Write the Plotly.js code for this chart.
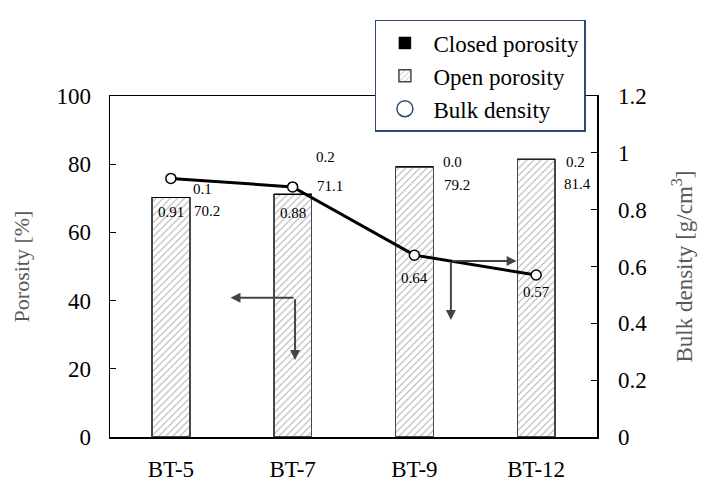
<!DOCTYPE html>
<html>
<head>
<meta charset="utf-8">
<script src="https://cdn.plot.ly/plotly-3.0.1.min.js"></script>
<style>html,body{margin:0;padding:0;background:#fff;}#chart{width:717px;height:491px;}#err{position:absolute;left:0;top:0;font:11px monospace;color:red;white-space:pre-wrap;}</style>
</head>
<body>
<div id="chart"></div>
<div id="err"></div>
<script>
// ---- data ----
var samples = ["BT-5", "BT-7", "BT-9", "BT-12"];
var openPorosity = [70.2, 71.1, 79.2, 81.4];
var closedPorosity = [0.1, 0.2, 0.0, 0.2];
var bulkDensity = [0.91, 0.88, 0.64, 0.57];
var openLabels = ["70.2", "71.1", "79.2", "81.4"];
var closedLabels = ["0.1", "0.2", "0.0", "0.2"];
var densityLabels = ["0.91", "0.88", "0.64", "0.57"];

// ---- label offsets (pixels) ----
var openOff = [[36, -14], [37, 8], [43, -18], [41, -25]];
var closedOff = [[32, 8], [33, 37], [38, 5], [39, -3]];
var densOff = [[0, -34], [0, -26], [0, -23], [0, -17]];

var serif = "Liberation Serif";

var traces = [
  {
    type: "bar", name: "Open porosity", x: samples, y: openPorosity,
    width: 0.31, legendrank: 2,
    marker: {color: "white", line: {color: "#474747", width: 1.5},
      pattern: {shape: "/", fgcolor: "#a8a8a8", bgcolor: "white", size: 5, solidity: 0.18}},
    hoverinfo: "skip"
  },
  {
    type: "bar", name: "Closed porosity", x: samples, y: closedPorosity,
    width: 0.31, legendrank: 1,
    marker: {color: "black", line: {color: "black", width: 0.5}},
    hoverinfo: "skip"
  },
  {
    type: "scatter", mode: "lines+markers", x: samples, y: bulkDensity, yaxis: "y2",
    showlegend: false,
    line: {color: "black", width: 3},
    marker: {color: "white", size: 10, line: {color: "black", width: 1.5}},
    hoverinfo: "skip"
  },
  {
    type: "scatter", mode: "markers", name: "Bulk density", x: [samples[0]], y: [-1], yaxis: "y2",
    legendrank: 3, hoverinfo: "skip",
    marker: {color: "white", size: 16, line: {color: "#2f4b7c", width: 1.5}}
  }
];

var annotations = [];
for (var i = 0; i < samples.length; i++) {
  var barTop = openPorosity[i] + closedPorosity[i];
  annotations.push({x: samples[i], y: barTop, xref: "x", yref: "y", text: openLabels[i], showarrow: false,
    xshift: openOff[i][0], yshift: openOff[i][1], font: {family: serif, size: 15, color: "black"}});
  annotations.push({x: samples[i], y: barTop, xref: "x", yref: "y", text: closedLabels[i], showarrow: false,
    xshift: closedOff[i][0], yshift: closedOff[i][1], font: {family: serif, size: 15, color: "black"}});
  annotations.push({x: samples[i], y: bulkDensity[i], xref: "x", yref: "y2", text: densityLabels[i], showarrow: false,
    xshift: densOff[i][0], yshift: densOff[i][1], font: {family: serif, size: 15, color: "black"}});
}
// axis-pointer arrows
function arrow(x, y, ax, ay) {
  return {text: "", showarrow: true, arrowhead: 2, arrowsize: 1, arrowwidth: 2, arrowcolor: "#444",
    xref: "x", yref: "y", axref: "x", ayref: "y", x: x, y: y, ax: ax, ay: ay};
}
annotations.push(arrow(0.49, 40.8, 1.02, 40.8));
annotations.push(arrow(1.02, 22.6, 1.02, 40.8));
annotations.push(arrow(2.84, 51.6, 2.30, 51.6));
annotations.push(arrow(2.30, 34.3, 2.30, 51.6));

var layout = {
  width: 717, height: 491,
  margin: {l: 110, r: 120, t: 96, b: 54},
  paper_bgcolor: "white", plot_bgcolor: "white",
  barmode: "stack",
  font: {family: serif, size: 22, color: "black"},
  xaxis: {
    type: "category", range: [-0.5, 3.5],
    showline: true, linecolor: "black", linewidth: 1.5, mirror: true,
    ticks: "", showgrid: false, zeroline: false, ticklabelstandoff: 11,
    tickfont: {family: serif, size: 23, color: "black"}
  },
  yaxis: {
    range: [0, 100], dtick: 20, ticks: "inside", ticklen: 6, tickwidth: 1.2, tickcolor: "black",
    showline: true, linecolor: "black", linewidth: 1.5, showgrid: false, zeroline: false,
    tickfont: {family: serif, size: 23, color: "black"}, ticklabelstandoff: 13,
    title: {text: "Porosity [%]", font: {family: serif, size: 22, color: "#595959"}, standoff: 20}
  },
  yaxis2: {
    overlaying: "y", side: "right",
    range: [0, 1.2], dtick: 0.2, ticks: "inside", ticklen: 6, tickwidth: 1.2, tickcolor: "black",
    showline: true, linecolor: "black", linewidth: 1.5, showgrid: false, zeroline: false,
    tickfont: {family: serif, size: 23, color: "black"}, ticklabelstandoff: 15,
    title: {text: "Bulk density [g/cm<sup>3</sup>]", font: {family: serif, size: 23, color: "#595959"}, standoff: 29}
  },
  showlegend: true,
  legend: {
    x: 0.544, y: 1.223, xanchor: "left", yanchor: "top",
    traceorder: "normal", itemwidth: 47,
    bgcolor: "white", bordercolor: "#2f4b7c", borderwidth: 1.5,
    font: {family: serif, size: 23, color: "black"}
  },
  annotations: annotations
};

try {
  Plotly.newPlot("chart", traces, layout, {displayModeBar: false, staticPlot: true}).catch(function (e) {
    document.getElementById("err").textContent = "async: " + e + "\n" + (e.stack || "").slice(0, 800);
  });
} catch (e) {
  document.getElementById("err").textContent = "sync: " + e + "\n" + (e.stack || "").slice(0, 800);
}
</script>
</body>
</html>
